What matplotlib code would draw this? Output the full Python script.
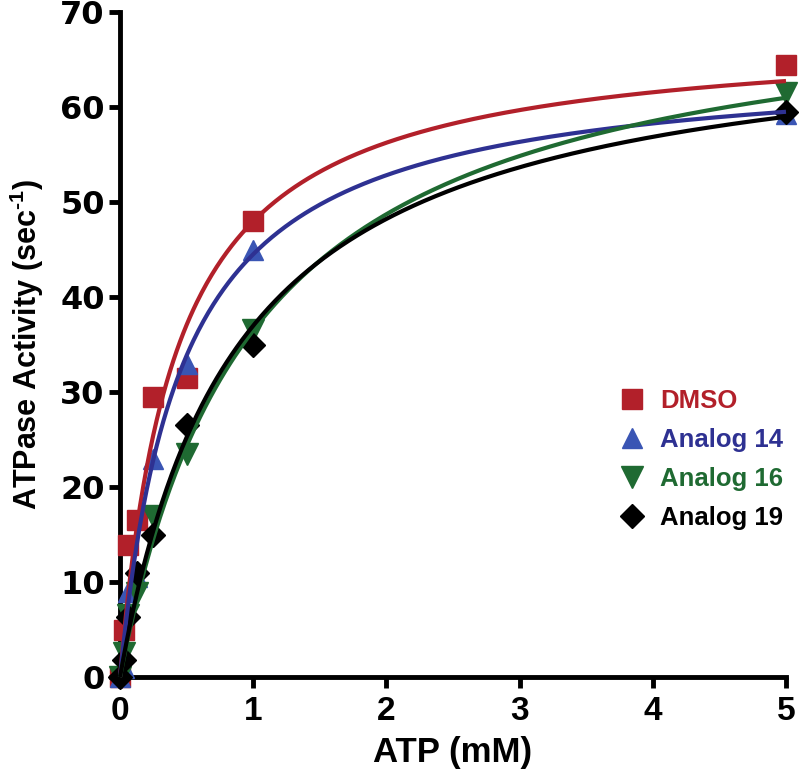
import numpy as np
import matplotlib
matplotlib.use("Agg")
import matplotlib.pyplot as plt
from matplotlib.lines import Line2D

plt.rcParams["mathtext.fontset"] = "custom"
plt.rcParams["mathtext.rm"] = "Liberation Sans"
plt.rcParams["mathtext.bf"] = "Liberation Sans:bold"

# ---- data ----
atp_mM = [0, 0.03125, 0.0625, 0.125, 0.25, 0.5, 1, 5]
series_names = ["DMSO", "Analog 14", "Analog 16", "Analog 19"]
dmso = [0, 4.9, 13.9, 16.5, 29.5, 31.5, 48.0, 64.5]
analog14 = [0, 1.0, 9.0, 10.5, 23.0, 33.0, 45.0, 59.3]
analog16 = [0, 2.5, 6.5, 8.9, 17.0, 23.5, 36.5, 61.5]
analog19 = [0, 1.8, 6.3, 11.0, 15.0, 26.5, 35.0, 59.5]
# Michaelis-Menten fit parameters (Vmax, Km)
vmax = [68.0, 65.0, 73.3, 69.3]
km = [0.417, 0.46, 1.008, 0.873]

x_ticks = [0, 1, 2, 3, 4, 5]
y_ticks = [0, 10, 20, 30, 40, 50, 60, 70]

colors = ["#B2202A", "#2E3192", "#1F6A32", "#000000"]
marker_colors = ["#B2202A", "#3A55B4", "#1F6A32", "#000000"]
markers = ["s", "^", "v", "D"]
msizes = [14, 15, 16, 12]

fig = plt.figure(figsize=(8.0, 7.69), dpi=100)
ax = fig.add_axes([0.15, 0.1196, 0.8325, 0.8644])

xf = np.linspace(0, 5, 400)
all_y = [dmso, analog14, analog16, analog19]
for i, (name, yv) in enumerate(zip(series_names, all_y)):
    ax.plot(atp_mM, yv, linestyle="none", marker=markers[i], ms=msizes[i],
            color=marker_colors[i], mec=marker_colors[i], clip_on=False, zorder=3)
for i in range(4):
    yf = vmax[i] * xf / (km[i] + xf)
    ax.plot(xf, yf, color=colors[i], lw=3.0, solid_capstyle="butt", zorder=4 + i, clip_on=False)

ax.set_xlim(0, 5)
ax.set_ylim(0, 70)
ax.set_xticks(x_ticks)
ax.set_yticks(y_ticks)

for s in ["top", "right"]:
    ax.spines[s].set_visible(False)
for s in ["left", "bottom"]:
    ax.spines[s].set_linewidth(3.5)
    ax.spines[s].set_zorder(2)

ax.tick_params(axis="both", which="major", direction="out", width=3.5, length=8)
ax.tick_params(axis="x", pad=6)
ax.tick_params(axis="y", pad=3)

for lab in ax.get_yticklabels():
    lab.set_fontfamily("DejaVu Sans")
    lab.set_fontweight("bold")
    lab.set_fontsize(23)
for lab in ax.get_xticklabels():
    lab.set_fontfamily("Liberation Sans")
    lab.set_fontweight("bold")
    lab.set_fontsize(24)

ax.set_xlabel("ATP (mM)", fontfamily="Liberation Sans", fontweight="bold", fontsize=25, labelpad=6)
ax.set_ylabel("ATPase Activity (sec$^{\\mathbf{\u2010}\\mathbf{1}}$)", fontfamily="Liberation Sans",
              fontweight="bold", fontsize=22, labelpad=10)

handles = [Line2D([], [], linestyle="none", marker=markers[i], ms=msizes[i],
                  color=marker_colors[i], mec=marker_colors[i]) for i in range(4)]
leg = ax.legend(handles, series_names, loc="upper left", bbox_to_anchor=(0.715, 0.468),
                frameon=False, handlelength=1.0, handletextpad=0.6, labelspacing=0.58,
                prop={"family": "Liberation Sans", "weight": "bold", "size": 18.5},
                labelcolor=colors)

fig.savefig("out.png", dpi=100)
